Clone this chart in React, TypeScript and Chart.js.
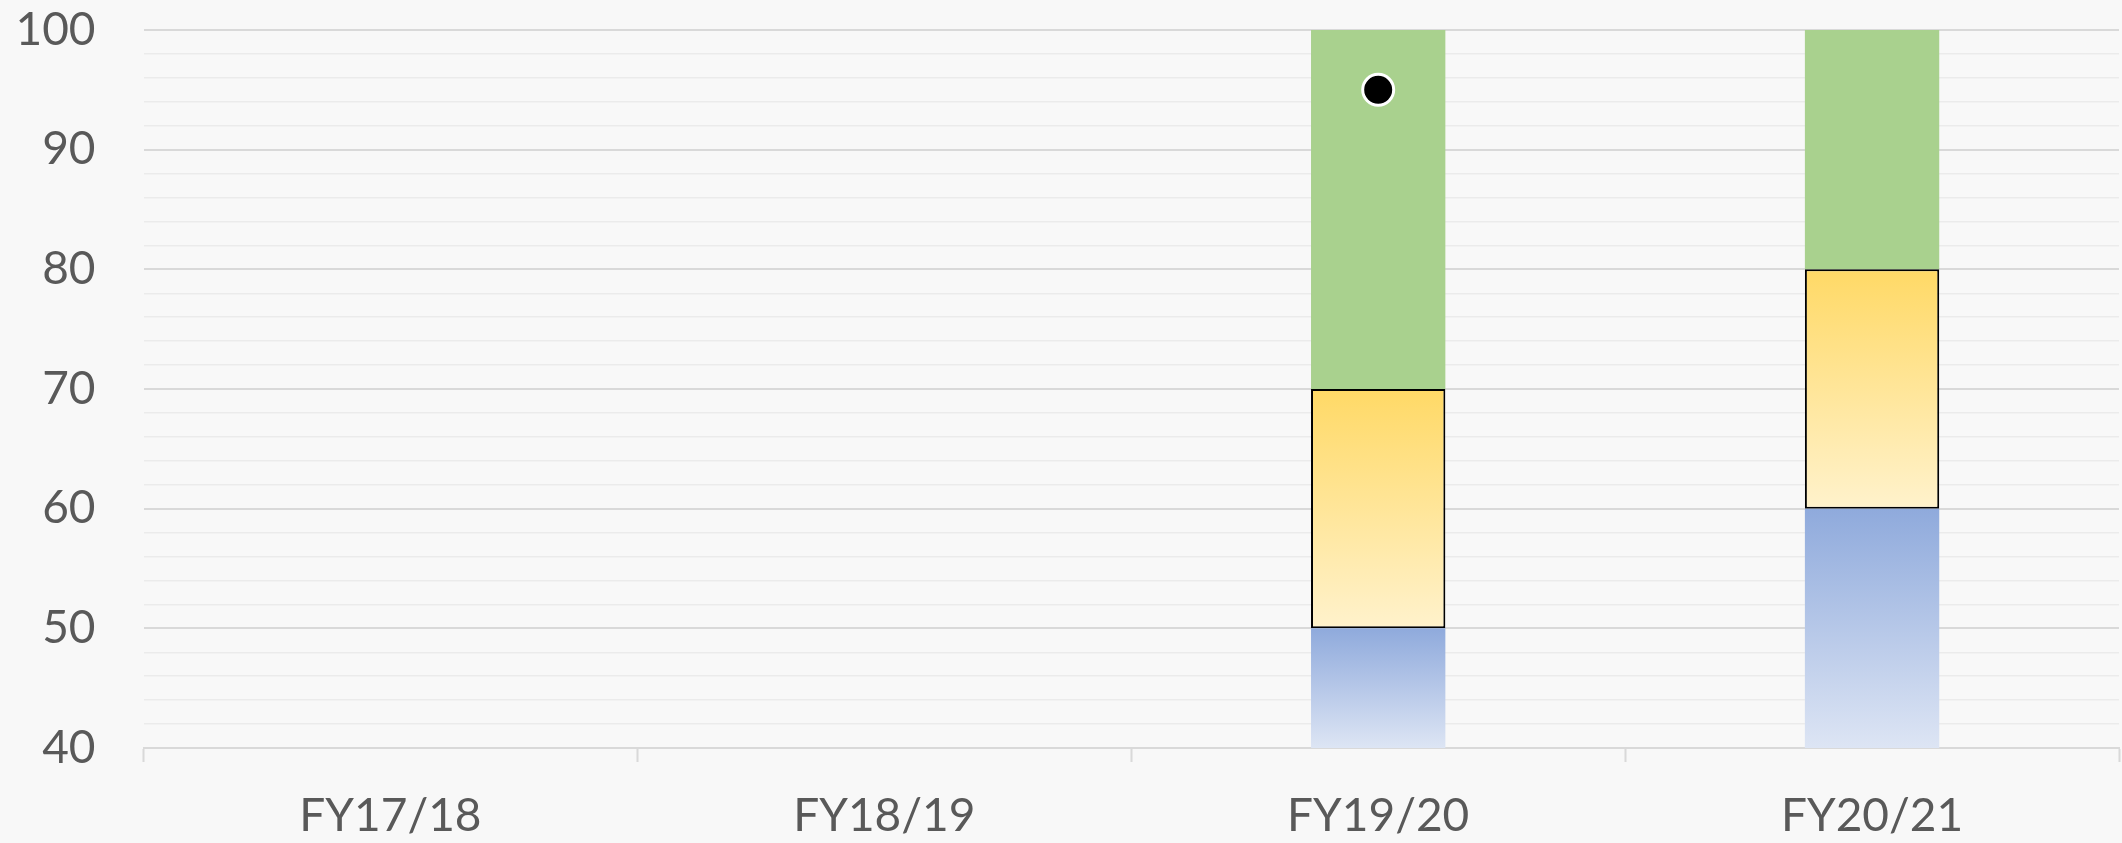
import React, { useEffect, useRef } from "react";
import { Chart, registerables } from "chart.js";

Chart.register(...registerables);

const categories = ["FY17/18", "FY18/19", "FY19/20", "FY20/21"];
const lowBand = [null, null, 50, 60];
const midBand = [null, null, 20, 20];
const highBand = [null, null, 30, 20];
const scoreValues = [null, null, 95, null];
const yMin = 40;
const yMax = 100;

function gradientFill(top: string, bottom: string, fallback: string, bandIndex: number) {
  return (ctx: any) => {
    const chart = ctx.chart;
    const area = chart.chartArea;
    const ys = chart.scales?.y;
    if (!area || !ys || ctx.type !== "data") return fallback;
    const i = ctx.dataIndex;
    const bands = [lowBand, midBand, highBand];
    let start = 0;
    for (let b = 0; b < bandIndex; b++) start += (bands[b][i] as number) || 0;
    const end = start + ((bands[bandIndex][i] as number) || 0);
    const yTop = ys.getPixelForValue(Math.min(end, yMax));
    const yBot = ys.getPixelForValue(Math.max(start, yMin));
    if (!isFinite(yTop) || !isFinite(yBot) || yTop === yBot) return fallback;
    const g = chart.ctx.createLinearGradient(0, yTop, 0, yBot);
    g.addColorStop(0, top);
    g.addColorStop(1, bottom);
    return g;
  };
}

export default function App() {
  const ref = useRef<HTMLCanvasElement>(null);
  useEffect(() => {
    if (!ref.current) return;
    const chart = new Chart(ref.current, {
      type: "bar",
      data: {
        labels: categories,
        datasets: [
          {
            type: "line",
            label: "Score",
            data: scoreValues,
            showLine: false,
            borderWidth: 0,
            pointRadius: (c: any) => (c.raw == null ? 0 : 15.5),
            pointHoverRadius: (c: any) => (c.raw == null ? 0 : 15.5),
            pointBackgroundColor: "#000000",
            pointBorderColor: "#ffffff",
            pointBorderWidth: (c: any) => (c.raw == null ? 0 : 3),
            stack: "dot",
            clip: false,
            order: 0,
          } as any,
          {
            label: "Low",
            data: lowBand,
            backgroundColor: gradientFill("#8faadc", "#dde5f4", "#b4c7e7", 0),
            borderWidth: 0,
            stack: "bands",
            barPercentage: 0.272,
            categoryPercentage: 1,
            order: 1,
          },
          {
            label: "Mid",
            data: midBand,
            backgroundColor: gradientFill("#ffd966", "#fff2cc", "#ffe699", 1),
            borderColor: "#000000",
            borderWidth: 2,
            borderSkipped: false,
            stack: "bands",
            barPercentage: 0.272,
            categoryPercentage: 1,
            order: 1,
          },
          {
            label: "High",
            data: highBand,
            backgroundColor: "#a9d18e",
            borderWidth: 0,
            stack: "bands",
            barPercentage: 0.272,
            categoryPercentage: 1,
            order: 1,
          },
        ],
      },
      options: {
        animation: false,
        responsive: true,
        maintainAspectRatio: false,
        layout: { padding: { top: 30, right: 3, left: 0, bottom: 0 } },
        plugins: { legend: { display: false }, tooltip: { enabled: false } },
        scales: {
          x: {
            stacked: true,
            offset: true,
            afterFit: (scale: any) => {
              scale.height = 95;
              scale.paddingLeft = 0;
              scale.paddingRight = 0;
            },
            grid: {
              offset: true,
              drawOnChartArea: false,
              drawTicks: true,
              tickLength: 14,
              tickColor: "#d9d9d9",
              tickWidth: 2,
            },
            border: { display: true, color: "#d9d9d9", width: 2 },
            ticks: {
              color: "#595959",
              font: { family: "Lato", size: 46, lineHeight: 1.2 },
              padding: 27,
              maxRotation: 0,
            },
          },
          y: {
            stacked: true,
            min: yMin,
            max: yMax,
            afterFit: (scale: any) => {
              scale.width = 143.5;
              scale.paddingTop = 0;
              scale.paddingBottom = 0;
            },
            grid: {
              drawTicks: false,
              color: (c: any) => (c.tick && c.tick.value % 10 === 0 ? "#d9d9d9" : "#ebebeb"),
              lineWidth: (c: any) => (c.tick && c.tick.value % 10 === 0 ? 2 : 1.5),
            },
            border: { display: false },
            ticks: {
              stepSize: 2,
              autoSkip: false,
              padding: 48,
              color: "#595959",
              font: { family: "Lato", size: 46, lineHeight: 1.2 },
              callback: (v: any) => (Number(v) % 10 === 0 ? String(v) : ""),
            },
          },
        },
      },
    });
    return () => chart.destroy();
  }, []);
  return (
    <div
      style={{
        position: "fixed",
        left: 0,
        top: 0,
        width: 2122,
        height: 843,
        background: "#f8f8f8",
      }}
    >
      <canvas ref={ref} />
    </div>
  );
}
